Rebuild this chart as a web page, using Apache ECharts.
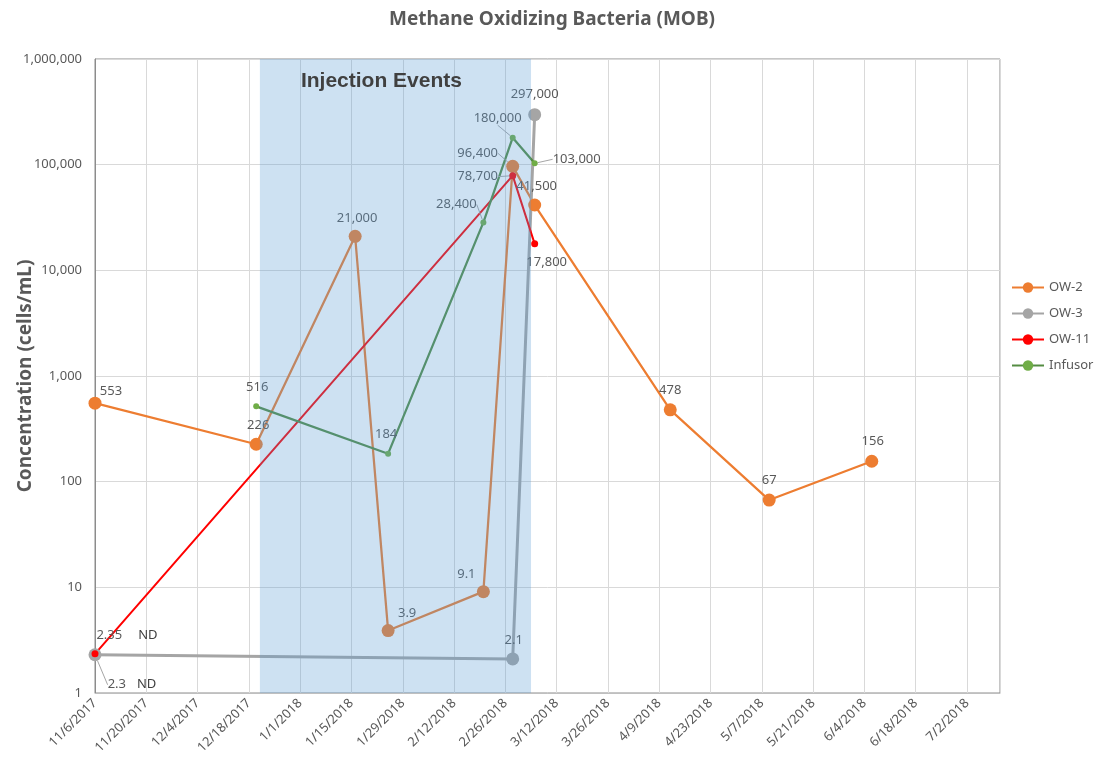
<!DOCTYPE html>
<html>
<head>
<meta charset="utf-8">
<title>Methane Oxidizing Bacteria (MOB)</title>
<script src="https://cdn.jsdelivr.net/npm/echarts/dist/echarts.min.js"></script>
<style>
  html, body { margin: 0; padding: 0; background: #fff; }
  #mob { width: 1109px; height: 765px; }
</style>
</head>
<body>
<div id="mob"></div>
<script>
  // sample dates and counts (cells/mL)
  var startDate = '2017-11-06';
  var endDate = '2018-07-11';
  var injectionDates = ['2017-12-21', '2018-03-05'];

  var ow2Dates = ['2017-11-06', '2017-12-20', '2018-01-16', '2018-01-25', '2018-02-20', '2018-02-28', '2018-03-06', '2018-04-12', '2018-05-09', '2018-06-06'];
  var ow2Values = [553, 226, 21000, 3.9, 9.1, 96400, 41500, 478, 67, 156];

  var ow3Dates = ['2017-11-06', '2018-02-28', '2018-03-06'];
  var ow3Values = [2.3, 2.1, 297000];
  var ow3Notes = ['ND', '', ''];

  var ow11Dates = ['2017-11-06', '2018-02-28', '2018-03-06'];
  var ow11Values = [2.35, 78700, 17800];
  var ow11Notes = ['ND', '', ''];

  var infusorDates = ['2017-12-20', '2018-01-25', '2018-02-20', '2018-02-28', '2018-03-06'];
  var infusorValues = [516, 184, 28400, 180000, 103000];

  var yTicks = [1, 10, 100, 1000, 10000, 100000, 1000000];

  // label placement (dx, dy from point, leader line)
  var ow2Labels = [[16, -12], [2, -19], [2, -18], [19, -17], [-17, -17], [-35, -13, 1], [2, -19], [0, -20], [0, -20], [1, -20]];
  var ow3Labels = [[37, 30, 1], [1, -19], [0, -20]];
  var ow11Labels = [[32, -18], [-35, 1, 1], [12, 18]];
  var infusorLabels = [[1, -19], [-2, -19], [-27, -18, 1], [-15, -19, 1], [42, -4, 1]];

  var DAY = 86400000;
  function dayOf(s) {
    return Math.round((Date.parse(s + 'T00:00:00Z') - Date.parse(startDate + 'T00:00:00Z')) / DAY);
  }
  function dateLabel(d) {
    var t = new Date(Date.parse(startDate + 'T00:00:00Z') + d * DAY);
    return (t.getUTCMonth() + 1) + '/' + t.getUTCDate() + '/' + t.getUTCFullYear();
  }
  function fmt(v) {
    return v.toLocaleString('en-US');
  }

  var font = '"Noto Sans", "Open Sans", sans-serif';
  var grey = '#595959';

  function makeSeries(name, dates, values, notes, labels, color, lineColor, width, size, ndGap) {
    var data = dates.map(function (d, i) {
      return {
        value: [dayOf(d), values[i]],
        labelLine: { show: !!labels[i][2] }
      };
    });
    return {
      name: name,
      type: 'line',
      data: data,
      symbol: 'circle',
      symbolSize: size,
      showAllSymbol: true,
      z: 2,
      itemStyle: { color: color },
      lineStyle: { color: lineColor, width: width },
      label: {
        show: true,
        position: 'inside',
        color: grey,
        fontSize: 13,
        fontFamily: font,
        formatter: function (p) {
          var txt = fmt(values[p.dataIndex]);
          if (notes && notes[p.dataIndex]) {
            return '{v|' + txt + '}{nd|' + notes[p.dataIndex] + '}';
          }
          return txt;
        },
        rich: {
          v: { color: grey, fontSize: 13, fontFamily: font },
          nd: { color: '#404040', fontSize: 13, fontFamily: font, padding: [0, 0, 0, ndGap || 13] }
        }
      },
      labelLine: {
        show: false,
        lineStyle: { color: '#a6a6a6', width: 1 }
      },
      labelLayout: function (p) {
        var l = labels[p.dataIndex];
        return { dx: l[0], dy: l[1] };
      },
      emphasis: { disabled: true }
    };
  }

  var chart = echarts.init(document.getElementById('mob'));

  var option = {
    animation: false,
    backgroundColor: '#fff',
    title: {
      text: 'Methane Oxidizing Bacteria (MOB)',
      left: 384,
      top: 5,
      textStyle: {
        color: grey,
        fontSize: 19,
        fontWeight: 'bold',
        fontFamily: font
      }
    },
    legend: {
      orient: 'vertical',
      left: 1006,
      top: 276,
      itemGap: 13,
      itemWidth: 32,
      itemHeight: 13,
      textStyle: { color: grey, fontSize: 13, fontFamily: font },
      data: ['OW-2', 'OW-3', 'OW-11', 'Infusor']
    },
    grid: {
      left: 95,
      right: 109,
      top: 59,
      bottom: 72,
      outerBoundsMode: 'none',
      containLabel: false,
      show: true,
      borderColor: '#8c8c8c',
      borderWidth: 1
    },
    xAxis: {
      type: 'value',
      min: 0,
      max: dayOf(endDate),
      interval: 14,
      axisLine: { lineStyle: { color: '#bfbfbf' } },
      axisTick: { show: false },
      splitLine: { show: true, lineStyle: { color: '#d9d9d9' } },
      axisLabel: {
        rotate: 45,
        color: grey,
        fontSize: 13,
        fontFamily: font,
        margin: 8,
        showMaxLabel: false,
        formatter: function (v) { return dateLabel(v); }
      }
    },
    yAxis: {
      type: 'log',
      logBase: 10,
      min: yTicks[0],
      max: yTicks[yTicks.length - 1],
      name: 'Concentration (cells/mL)',
      nameLocation: 'middle',
      nameGap: 60,
      nameMoveOverlap: false,
      nameTextStyle: {
        color: grey,
        fontSize: 19,
        fontWeight: 'bold',
        fontFamily: font
      },
      axisLine: { show: true, lineStyle: { color: '#8c8c8c' } },
      axisTick: { show: false },
      splitLine: { show: true, lineStyle: { color: '#d9d9d9' } },
      axisLabel: {
        color: grey,
        fontSize: 13,
        fontFamily: font,
        margin: 13,
        formatter: function (v) { return fmt(v); }
      }
    },
    series: [
      makeSeries('OW-2', ow2Dates, ow2Values, null, ow2Labels, '#ED7D31', '#ED7D31', 2.25, 13),
      makeSeries('OW-3', ow3Dates, ow3Values, ow3Notes, ow3Labels, '#A5A5A5', '#A5A5A5', 3, 13, 11),
      makeSeries('OW-11', ow11Dates, ow11Values, ow11Notes, ow11Labels, '#FF0000', '#FF0000', 2, 7, 16),
      makeSeries('Infusor', infusorDates, infusorValues, null, infusorLabels, '#70AD47', '#548C42', 2.25, 6),
      {
        // injection window, drawn over the lines like the Excel shape
        name: 'Injection Events',
        type: 'line',
        data: [],
        markArea: {
          silent: true,
          z: 5,
          itemStyle: { color: 'rgba(91,155,213,0.3)' },
          label: {
            show: true,
            position: [41, 12],
            color: '#404040',
            fontSize: 21,
            fontWeight: 'bold',
            fontFamily: '"Liberation Sans", Arial, sans-serif'
          },
          data: [[
            { name: 'Injection Events', xAxis: dayOf(injectionDates[0]) },
            { xAxis: dayOf(injectionDates[1]) }
          ]]
        }
      }
    ]
  };

  chart.setOption(option);
</script>
</body>
</html>
